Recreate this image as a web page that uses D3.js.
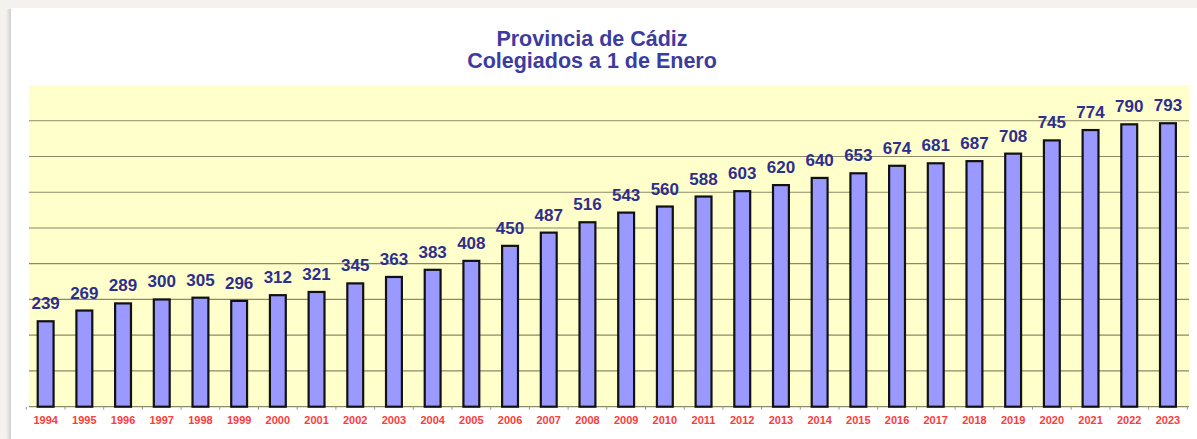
<!DOCTYPE html>
<html>
<head>
<meta charset="utf-8">
<script src="https://cdn.jsdelivr.net/npm/d3@7"></script>
<style>
  body { margin: 0; background: #f3f2ef; }
  svg { display: block; }
</style>
</head>
<body>
<svg id="chart" width="1197" height="439"></svg>
<script>
const years = ["1994","1995","1996","1997","1998","1999","2000","2001","2002","2003",
  "2004","2005","2006","2007","2008","2009","2010","2011","2012","2013",
  "2014","2015","2016","2017","2018","2019","2020","2021","2022","2023"];
const colegiados = [239, 269, 289, 300, 305, 296, 312, 321, 345, 363,
  383, 408, 450, 487, 516, 543, 560, 588, 603, 620,
  640, 653, 674, 681, 687, 708, 745, 774, 790, 793];
const titleLines = ["Provincia de Cádiz", "Colegiados a 1 de Enero"];
const gridTicks = [100, 200, 300, 400, 500, 600, 700, 800];

const svg = d3.select("#chart");

// panel with a soft shadow on the left
const defs = svg.append("defs");
const grad = defs.append("linearGradient").attr("id", "shadow");
grad.append("stop").attr("offset", "0%").attr("stop-color", "#f3f2ef");
grad.append("stop").attr("offset", "100%").attr("stop-color", "#c8c8c8");
svg.append("rect").attr("x", 6).attr("y", 9).attr("width", 6).attr("height", 430).attr("fill", "url(#shadow)");
svg.append("rect").attr("x", 11).attr("y", 8).attr("width", 1186).attr("height", 431).attr("fill", "#fff");

const plot = { left: 29, right: 1189, top: 85, bottom: 406.7 };

const x = d3.scaleBand()
    .domain(years)
    .range([26.3, 1187.3])
    .paddingInner(0.59)
    .paddingOuter(0.295);

const y = d3.scaleLinear()
    .domain([0, 900])
    .range([plot.bottom, plot.top]);

svg.append("rect")
    .attr("x", plot.left).attr("y", plot.top)
    .attr("width", plot.right - plot.left).attr("height", plot.bottom - plot.top)
    .attr("fill", "#ffffcc");

svg.append("g").selectAll("line")
    .data(gridTicks)
    .enter().append("line")
    .attr("x1", plot.left).attr("x2", plot.right)
    .attr("y1", d => y(d)).attr("y2", d => y(d))
    .attr("stroke", "#8a8a6a").attr("stroke-width", 1.2);

// category axis: baseline + ticks between categories
const step = x.step();
const axis = svg.append("g");
axis.append("line")
    .attr("x1", plot.left).attr("x2", plot.right)
    .attr("y1", plot.bottom).attr("y2", plot.bottom)
    .attr("stroke", "#8a8a6a").attr("stroke-width", 1.2);
axis.selectAll("line.tick")
    .data(d3.range(years.length + 1))
    .enter().append("line")
    .attr("class", "tick")
    .attr("x1", i => 26.3 + i * step).attr("x2", i => 26.3 + i * step)
    .attr("y1", plot.bottom).attr("y2", plot.bottom + 3)
    .attr("stroke", "#999");

const bars = svg.append("g").selectAll("rect")
    .data(colegiados)
    .enter().append("rect")
    .attr("x", (d, i) => x(years[i]))
    .attr("y", d => y(d))
    .attr("width", x.bandwidth())
    .attr("height", d => plot.bottom - y(d))
    .attr("fill", "#9999ff")
    .attr("stroke", "#111")
    .attr("stroke-width", 2.2);

svg.append("g").selectAll("text")
    .data(colegiados)
    .enter().append("text")
    .attr("x", (d, i) => x(years[i]) + x.bandwidth() / 2)
    .attr("y", d => y(d) - 12)
    .attr("text-anchor", "middle")
    .style("font-family", "Arial, 'Liberation Sans', sans-serif")
    .style("font-weight", "bold")
    .style("font-size", "17px")
    .style("fill", "#2e2e8c")
    .text(d => d);

svg.append("g").selectAll("text")
    .data(years)
    .enter().append("text")
    .attr("x", d => x(d) + x.bandwidth() / 2)
    .attr("y", 424)
    .attr("text-anchor", "middle")
    .style("font-family", "Arial, 'Liberation Sans', sans-serif")
    .style("font-weight", "bold")
    .style("font-size", "11px")
    .style("fill", "#ff3b3b")
    .text(d => d);

svg.append("g").selectAll("text")
    .data(titleLines)
    .enter().append("text")
    .attr("x", 592)
    .attr("y", (d, i) => 46 + i * 22)
    .attr("text-anchor", "middle")
    .style("font-family", "Arial, 'Liberation Sans', sans-serif")
    .style("font-weight", "bold")
    .style("font-size", "21.5px")
    .style("fill", "#3c3ca0")
    .text(d => d);
</script>
</body>
</html>
